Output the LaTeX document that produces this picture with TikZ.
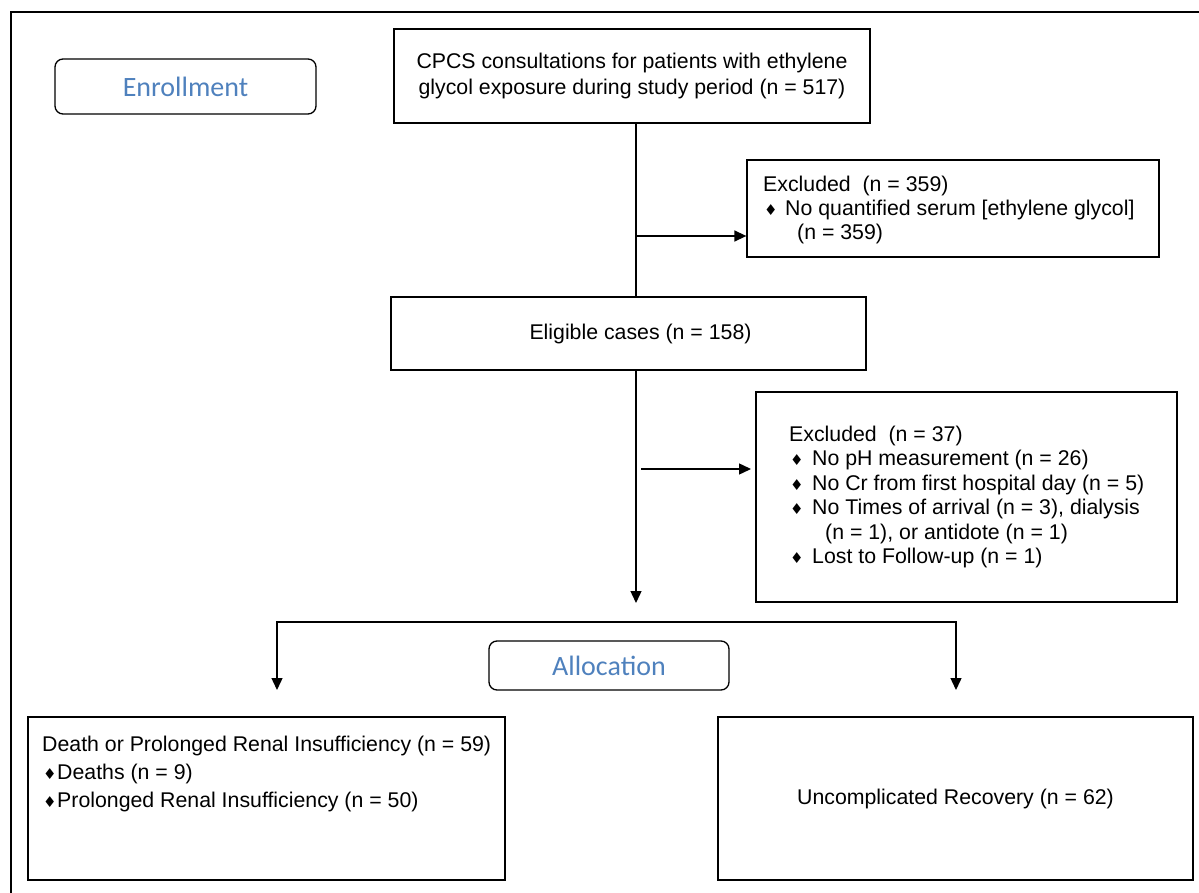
\documentclass[tikz,border=0pt]{standalone}
\usepackage{fontspec}
\setmainfont{Liberation Sans}
\newfontfamily\calfont{Carlito}
\newfontfamily\djfont{DejaVu Sans}
\usetikzlibrary{arrows.meta}
\definecolor{hdrblue}{HTML}{4F81BD}
\newcommand\dia{{\djfont\fontsize{15}{15}\selectfont ♦}}
\newcommand\bul[1]{\makebox[#1][l]{\dia}}
\begin{document}
\begin{tikzpicture}[x=1pt,y=-1pt,
  box/.style={draw, line width=1.3pt, inner sep=0pt, font=\fontsize{21.3}{26}\selectfont},
  txt/.style={inner sep=0pt, align=left},
  hdr/.style={draw, line width=1.3pt, rounded corners=8pt, inner sep=0pt, font=\calfont\fontsize{28}{30}\selectfont, text=hdrblue},
  conn/.style={line width=1.4pt},
  tip/.tip={Triangle[length=12pt,width=11pt]},
  arr/.style={conn, -tip}]
\useasboundingbox (0,0) rectangle (1199,893);
% outer frame
\coordinate (f1) at (11,893);
\coordinate (f2) at (11,12);
\coordinate (f3) at (1199,12);
\draw[line width=2.6pt] (f1) -- (f2) -- (f3);

% header boxes
\node[hdr, minimum width=261pt, minimum height=55pt] (enr) at (185.5,86.5) {Enrollment};
\node[hdr, minimum width=240pt, minimum height=49pt] (alloc) at (609,665.5) {Allocation};

% main boxes
\node[box, minimum width=476pt, minimum height=94pt, align=center] (top) at (632,76)
  {CPCS consultations for patients with ethylene\\glycol exposure during study period (n = 517)};
\node[box, minimum width=412pt, minimum height=97pt] (ex1) at (953,208.5) {};
\node[txt, anchor=west, font=\fontsize{21.3}{24}\selectfont] (ex1t) at (763,210)
  {Excluded~~(n = 359)\\
   \hspace*{1pt}\bul{21pt}No quantified serum [ethylene glycol]\\
   \hspace*{34pt}(n = 359)};
\node[box, minimum width=475pt, minimum height=73pt] (elig) at (628.5,333.5) {};
\node[txt, font=\fontsize{21.3}{26}\selectfont] (eligt) at (640.5,333.5) {Eligible cases (n = 158)};
\node[box, minimum width=421pt, minimum height=210pt] (ex2) at (966.5,497) {};
\node[txt, anchor=west, font=\fontsize{21.3}{24.5}\selectfont] (ex2t) at (789,497)
  {Excluded~~(n = 37)\\
   \hspace*{1pt}\bul{22pt}No pH measurement (n = 26)\\
   \hspace*{1pt}\bul{22pt}No Cr from first hospital day (n = 5)\\
   \hspace*{1pt}\bul{22pt}No Times of arrival (n = 3), dialysis\\
   \hspace*{36pt}(n = 1), or antidote (n = 1)\\
   \hspace*{1pt}\bul{22pt}Lost to Follow-up (n = 1)};
\node[box, minimum width=477pt, minimum height=163pt] (outA) at (266.5,798.5) {};
\node[txt, anchor=west, font=\fontsize{21.3}{28}\selectfont] (outAt) at (42,774)
  {Death or Prolonged Renal Insufficiency (n = 59)\\
   \hspace*{1pt}\bul{14pt}Deaths (n = 9)\\
   \hspace*{1pt}\bul{14pt}Prolonged Renal Insufficiency (n = 50)};
\node[box, minimum width=475pt, minimum height=163pt] (outB) at (955.5,798.5)
  {Uncomplicated Recovery (n = 62)};

% connectors
\coordinate (x1) at (636,0);
\draw[conn] (top.south -| x1) -- (elig.north -| x1);
\coordinate (j1) at (636,236);
\draw[arr] (j1) -- (j1 -| ex1.west);
\coordinate (d1) at (636,603);
\draw[arr] (elig.south -| x1) -- (d1);
\coordinate (j2) at (641,469);
\coordinate (j2e) at (751,469);
\draw[arr] (j2) -- (j2e);
\coordinate (al) at (277,690);
\coordinate (bl) at (277,622);
\coordinate (br) at (956,622);
\coordinate (ar) at (956,690);
\draw[conn, tip-tip] (al) -- (bl) -- (br) -- (ar);
\coordinate (s1) at (566,622);
\coordinate (s2) at (668,622);
\draw[line width=1.9pt, black] (s1) -- (s2);
\end{tikzpicture}
\end{document}
